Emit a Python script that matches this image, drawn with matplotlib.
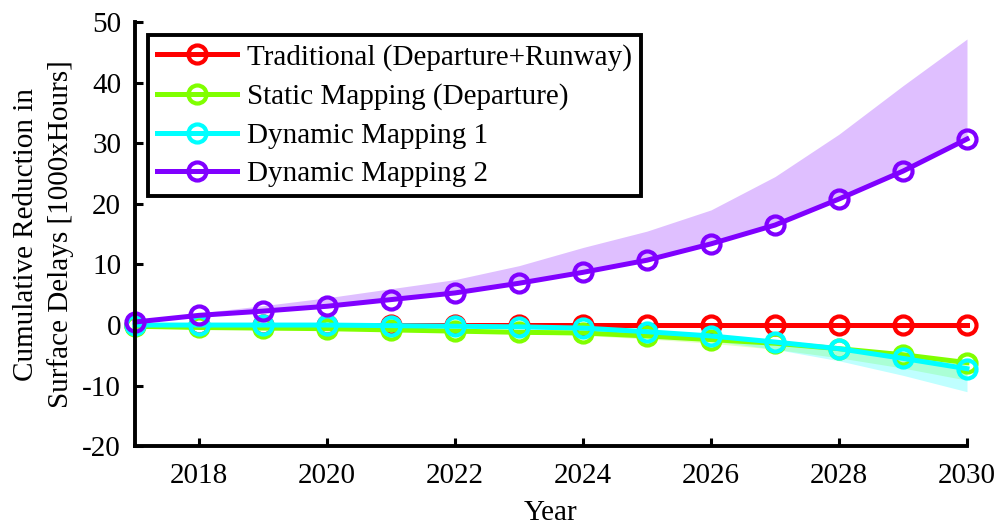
import numpy as np
import matplotlib
matplotlib.use('Agg')
import matplotlib.pyplot as plt

# data
years = np.arange(2017, 2031)

traditional = [0, 0, 0, 0, 0, 0, 0, 0, 0, 0, 0, 0, 0, 0]
static_map = [-0.2, -0.4, -0.5, -0.6, -0.8, -1.0, -1.2, -1.3, -1.8, -2.4, -3.0, -3.9, -4.9, -6.2]
dynamic_1 = [0, 0, 0, 0, -0.1, -0.2, -0.3, -0.5, -1.1, -1.8, -2.8, -3.9, -5.5, -7.2]
dynamic_2 = [0.5, 1.6, 2.3, 3.1, 4.2, 5.3, 6.9, 8.7, 10.7, 13.4, 16.5, 20.8, 25.4, 30.7]

# shaded uncertainty bounds
static_low = [-0.2, -0.4, -0.5, -0.7, -0.9, -1.1, -1.4, -1.7, -2.3, -3.0, -4.0, -5.4, -7.1, -9.1]
dynamic_1_low = [0, 0, 0, -0.1, -0.2, -0.3, -0.5, -0.9, -1.6, -2.6, -4.0, -5.9, -8.3, -11.0]
dynamic_2_high = [0.6, 2.0, 3.2, 4.5, 6.0, 7.5, 9.8, 12.8, 15.5, 19.0, 24.5, 31.5, 39.5, 47.2]

labels = ['Traditional (Departure+Runway)', 'Static Mapping (Departure)',
          'Dynamic Mapping 1', 'Dynamic Mapping 2']
colors = ['#FF0000', '#80FF00', '#00FFFF', '#8000FF']

plt.rcParams['font.family'] = ['Liberation Serif', 'DejaVu Serif']
plt.rcParams['axes.unicode_minus'] = False

fig = plt.figure(figsize=(10, 5.25), dpi=100)
ax = fig.add_axes([0.135, 0.150, 0.832, 0.808])

ax.fill_between(years, static_map, static_low, color=colors[1], alpha=0.22, lw=0)
ax.fill_between(years, dynamic_1, dynamic_1_low, color=colors[2], alpha=0.25, lw=0)
ax.fill_between(years, dynamic_2, dynamic_2_high, color=colors[3], alpha=0.25, lw=0)

series = [traditional, static_map, dynamic_1, dynamic_2]
for vals, lab, col in zip(series, labels, colors):
    ax.plot(years, vals, '-o', color=col, lw=3.6, ms=13, mew=3,
            mfc='none', label=lab, clip_on=False)

ax.set_xlim(2017, 2030)
ax.set_ylim(-20, 50)
ax.set_xticks(np.arange(2018, 2031, 2))
ax.set_yticks(np.arange(-20, 51, 10))

for s in ['top', 'right']:
    ax.spines[s].set_visible(False)
for s in ['left', 'bottom']:
    ax.spines[s].set_linewidth(2.8)

ax.tick_params(direction='in', length=6, width=2.2, labelsize=21)
ax.tick_params(axis='x', pad=12)
ax.tick_params(axis='y', pad=10)
ax.set_xlabel('Year', fontsize=21, labelpad=8)
ax.set_ylabel('Cumulative Reduction in\nSurface Delays [1000xHours]', fontsize=21,
              labelpad=6, linespacing=1.4)

leg = ax.legend(loc='upper left', bbox_to_anchor=(0.0156, 0.969), borderaxespad=0,
                fontsize=21, frameon=True, fancybox=False, handlelength=2.75,
                labelspacing=0.42, borderpad=0.3, handletextpad=0.35)
leg.get_frame().set_edgecolor('black')
leg.get_frame().set_linewidth(2.8)
leg.get_frame().set_alpha(1)

fig.savefig('out.png', dpi=100, facecolor='white')
